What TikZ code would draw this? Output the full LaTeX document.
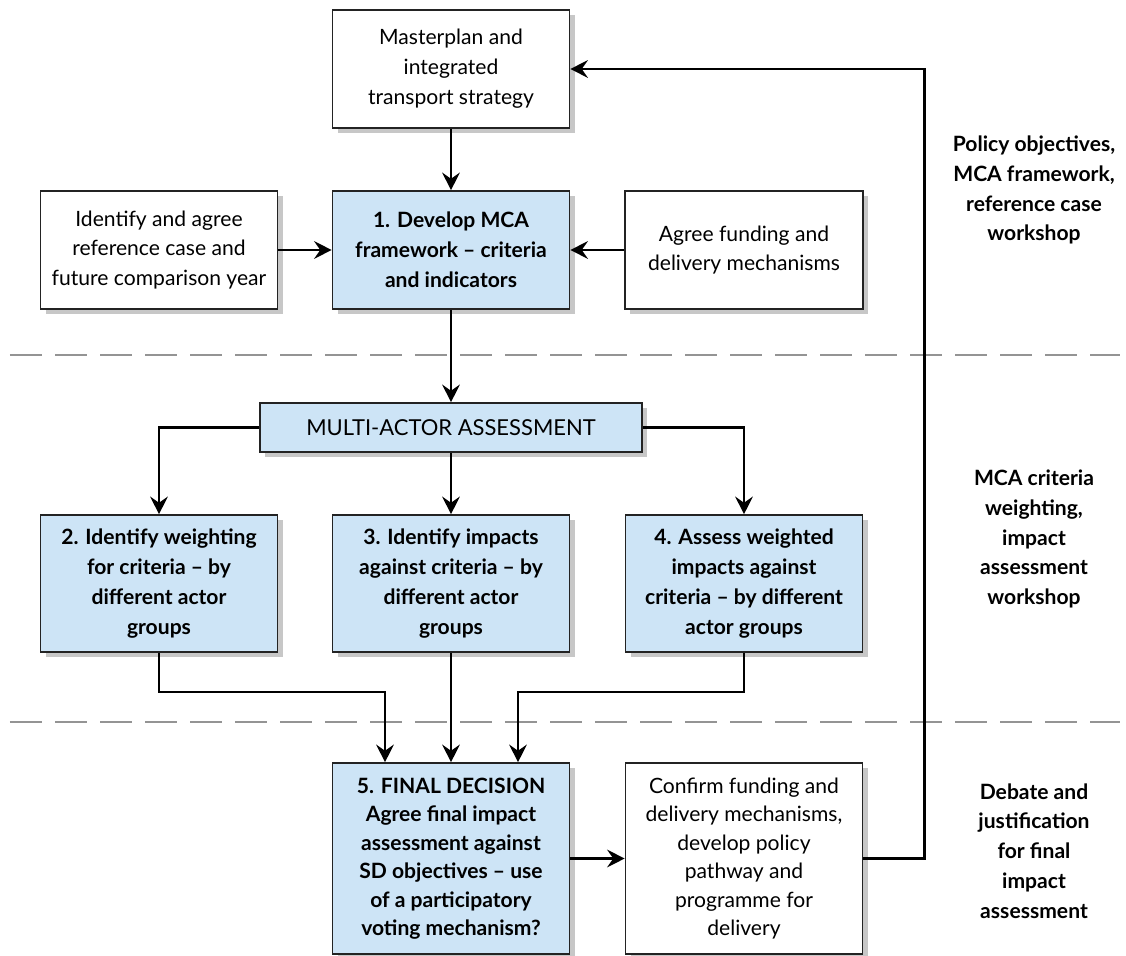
\documentclass[tikz,border=0pt]{standalone}
\usepackage{fontspec}
\setmainfont{Lato}
\usepackage{xcolor}
\usepackage{tikz}
\usetikzlibrary{shapes,arrows.meta,shadows}
\definecolor{boxblue}{RGB}{205,228,246}
\definecolor{boxline}{RGB}{35,35,35}
\tikzset{boxshadow/.style={drop shadow={shadow xshift=0.1cm, shadow yshift=-0.1cm, fill=black!22, opacity=1}}}
\tikzstyle{plainBlock} = [rectangle, draw=boxline, line width=0.9pt, fill=white, boxshadow, align=center,
    font=\fontsize{12}{17}\selectfont, inner sep=2pt, minimum width=4.74cm, minimum height=2.36cm]
\tikzstyle{stepBlock} = [plainBlock, fill=boxblue, font=\fontsize{12}{17}\selectfont\bfseries]
\tikzstyle{tallBlock} = [stepBlock, minimum height=2.74cm]
\tikzstyle{finalBlock} = [plainBlock, minimum height=3.82cm, font=\fontsize{12}{16.2}\selectfont]
\tikzstyle{headBlock} = [plainBlock, fill=boxblue, minimum width=7.64cm, minimum height=0.98cm, font=\fontsize{12.5}{17}\selectfont]
\tikzstyle{sideNote} = [align=center, font=\fontsize{12}{17}\selectfont\bfseries]
\tikzstyle{line} = [draw, line width=1.4pt, -{Stealth[length=10pt, width=10pt, inset=3.5pt]}]
\tikzstyle{sepline} = [draw=black!42, line width=0.9pt, dash pattern=on 0.64cm off 0.26cm]

\begin{document}
\begin{tikzpicture}[node distance = 2cm, auto]
    \useasboundingbox (0,0) rectangle (22.52,-19.12);
    % Separators
    \path [sepline] (0.2,-7.1) -- (22.4,-7.1);
    \path [sepline] (0.2,-14.44) -- (22.4,-14.44);
    % Place nodes
    \node [plainBlock] at (9.02,-1.38) (plan) {Masterplan and\\integrated\\transport strategy};
    \node [stepBlock, below of=plan, node distance=3.62cm] (mca) {1. Develop MCA\\framework -- criteria\\and indicators};
    \node [plainBlock, left of=mca, node distance=5.84cm] (refcase) {Identify and agree\\reference case and\\future comparison year};
    \node [plainBlock, right of=mca, node distance=5.86cm, minimum width=4.76cm] (funding) {Agree funding and\\delivery mechanisms};
    \node [headBlock, below of=mca, node distance=3.55cm] (multi) {MULTI-ACTOR ASSESSMENT};
    \node [tallBlock, below of=multi, node distance=3.12cm] (impacts) {3. Identify impacts\\against criteria -- by\\different actor\\groups};
    \node [tallBlock, left of=impacts, node distance=5.84cm] (weights) {2. Identify weighting\\for criteria -- by\\different actor\\groups};
    \node [tallBlock, right of=impacts, node distance=5.86cm] (assess) {4. Assess weighted\\impacts against\\criteria -- by different\\actor groups};
    \node [finalBlock, fill=boxblue, font=\fontsize{12}{16.2}\selectfont\bfseries, below of=impacts, node distance=5.5cm] (decision) {5. FINAL DECISION\\Agree final impact\\assessment against\\SD objectives -- use\\of a participatory\\voting mechanism?};
    \node [finalBlock, right of=decision, node distance=5.86cm] (confirm) {Confirm funding and\\delivery mechanisms,\\develop policy\\pathway and\\programme for\\delivery};
    % Workshop notes
    \node [sideNote] at (20.68,-3.8) (note1) {Policy objectives,\\MCA framework,\\reference case\\workshop};
    \node [sideNote] at (20.68,-10.78) (note2) {MCA criteria\\weighting,\\impact\\assessment\\workshop};
    \node [sideNote] at (20.68,-17.02) (note3) {Debate and\\justification\\for final\\impact\\assessment};

    % Draw edges
    \path [line] (plan) -- (mca);
    \path [line] (refcase) -- (mca);
    \path [line] (funding) -- (mca);
    \path [line] (mca) -- (multi);
    \path [line] (multi.west) -| (weights);
    \path [line] (multi) -- (impacts);
    \path [line] (multi.east) -| (assess);
    \path [line] (weights.south) -- ++(0,-0.78) -| ([xshift=-1.32cm]decision.north);
    \path [line] (impacts) -- (decision);
    \path [line] (assess.south) -- ++(0,-0.78) -| ([xshift=1.34cm]decision.north);
    \path [line] (decision) -- (confirm);
    \path [line] (confirm.east) -- ++(1.22,0) |- (plan.east);
\end{tikzpicture}
\end{document}
